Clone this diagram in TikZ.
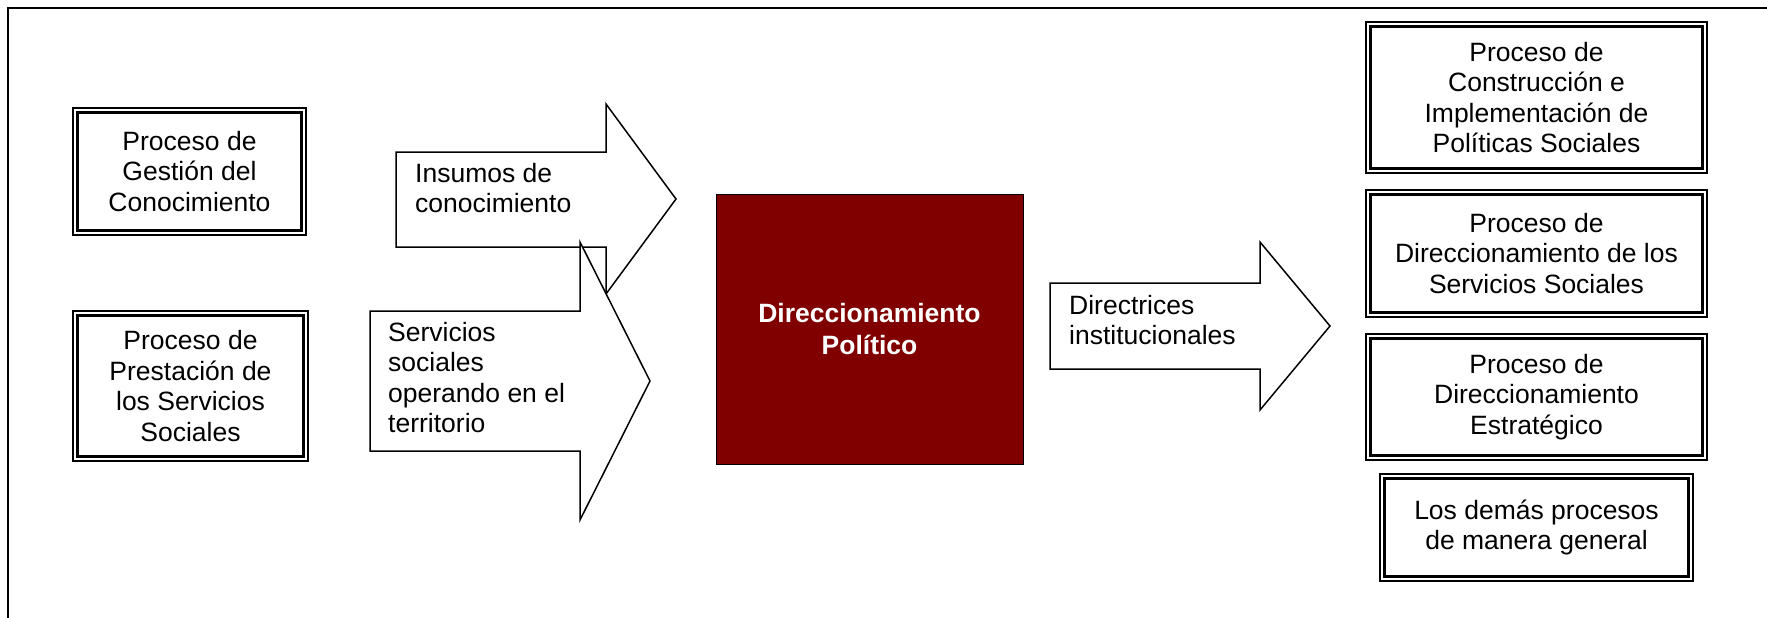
\documentclass[tikz,border=0pt]{standalone}
\usepackage{fontspec}
\setmainfont{Liberation Sans}
\definecolor{maroonbox}{HTML}{800000}
\begin{document}
\begin{tikzpicture}[x=1pt,y=-1pt,
  txt/.style={font=\fontsize{26.5}{30.5}\selectfont, inner sep=0pt, align=left, anchor=north west},
  dbox/.style={draw, line width=1.5pt, inner sep=0pt, align=center, fill=white,
    font=\fontsize{26.5}{30.5}\selectfont},
  innerline/.style={line width=3pt},
  blockarrow/.style={draw, line width=1.5pt, fill=white, line join=miter},
]
\useasboundingbox (0,0) rectangle (1767,618);
\clip (0,0) rectangle (1767,618);
% outer frame
\draw[line width=2.5pt] (8,8) rectangle (1800,660);

% left boxes
\node[dbox, minimum width=233pt, minimum height=127pt] (b1) at (189.5,171.5)
  {Proceso de\\Gestión del\\Conocimiento};
\node[dbox, minimum width=235pt, minimum height=150pt] (b2) at (190.5,386)
  {Proceso de\\Prestación de\\los Servicios\\Sociales};

% right boxes
\node[dbox, minimum width=341pt, minimum height=151pt] (r1) at (1536.5,97.5)
  {Proceso de\\Construcción e\\Implementación de\\Políticas Sociales};
\node[dbox, minimum width=341pt, minimum height=127pt] (r2) at (1536.5,253.5)
  {Proceso de\\Direccionamiento de los\\Servicios Sociales};
\node[dbox, minimum width=341pt, minimum height=126pt] (r3) at (1536.5,397)
  {Proceso de\\Direccionamiento\\Estratégico};
\node[dbox, minimum width=313pt, minimum height=107pt] (r4) at (1536.5,527.5)
  {Los demás procesos\\de manera general};

\foreach \n in {b1,b2,r1,r2,r3,r4}
  \draw[innerline] ([xshift=5.5pt,yshift=-5.5pt]\n.north west) rectangle ([xshift=-5.5pt,yshift=5.5pt]\n.south east);

% block arrow: Insumos de conocimiento
\draw[blockarrow] (396,152) -- (606,152) -- (606,104) -- (676,199) -- (606,294) -- (606,247) -- (396,247) -- cycle;
\node[txt] (a1) at (415,163) {Insumos de\\conocimiento};

% block arrow: Servicios sociales
\draw[blockarrow] (370,311) -- (580,311) -- (580,242) -- (650,381) -- (580,520) -- (580,451) -- (370,451) -- cycle;
\node[txt] (a2) at (388,322) {Servicios\\sociales\\operando en el\\territorio};

% center box
\node[draw, line width=1pt, fill=maroonbox, minimum width=307pt, minimum height=270pt,
  text=white, align=center, inner sep=0pt,
  font=\fontsize{26.5}{31.5}\selectfont\bfseries] (dp) at (869.5,329)
  {Direccionamiento\\Político};

% block arrow: Directrices institucionales
\draw[blockarrow] (1050,283) -- (1260,283) -- (1260,242) -- (1330,326) -- (1260,410) -- (1260,369) -- (1050,369) -- cycle;
\node[txt] (a3) at (1069,295) {Directrices\\institucionales};
\end{tikzpicture}
\end{document}
